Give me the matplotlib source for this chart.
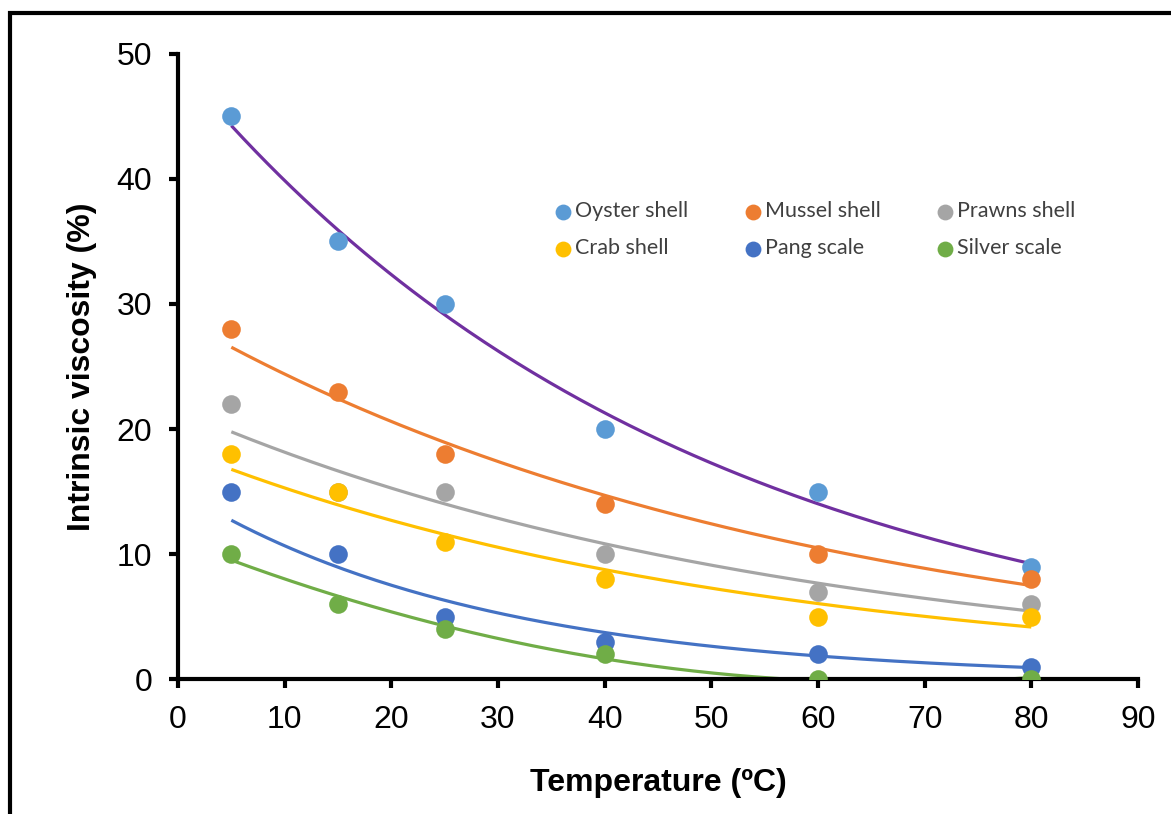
import numpy as np
import matplotlib.pyplot as plt
from matplotlib.patches import Rectangle

# temperature points (ºC)
temp = [5, 15, 25, 40, 60, 80]

# intrinsic viscosity (%) for each material
oyster = [45, 35, 30, 20, 15, 9]
mussel = [28, 23, 18, 14, 10, 8]
prawns = [22, 15, 15, 10, 7, 6]
crab = [18, 15, 11, 8, 5, 5]
pang = [15, 10, 5, 3, 2, 1]
silver = [10, 6, 4, 2, 0, 0]

names = ['Oyster shell', 'Mussel shell', 'Prawns shell', 'Crab shell', 'Pang scale', 'Silver scale']
series = [oyster, mussel, prawns, crab, pang, silver]
dot_colors = ['#5B9BD5', '#ED7D31', '#A5A5A5', '#FFC000', '#4472C4', '#70AD47']
fit_colors = ['#7030A0', '#ED7D31', '#A5A5A5', '#FFC000', '#4472C4', '#70AD47']
fit_kind = ['exp', 'exp', 'exp', 'exp', 'exp', 'poly2']

plt.rcParams['font.family'] = ['Liberation Sans', 'DejaVu Sans']

fig = plt.figure(figsize=(11.71, 8.14), dpi=100)
ax = fig.add_axes([0.152, 0.1658, 0.8198, 0.7679])

x = np.array(temp, dtype=float)
xs = np.linspace(5, 80, 200)

# trendlines first, dots on top
for vals, col, kind in zip(series, fit_colors, fit_kind):
    y = np.array(vals, dtype=float)
    if kind == 'exp':
        b, a = np.polyfit(x, np.log(y), 1)
        ys = np.exp(a + b * xs)
    else:
        ys = np.polyval(np.polyfit(x, y, 2), xs)
    ax.plot(xs, ys, color=col, lw=2.3, zorder=2, solid_capstyle='butt')

handles = []
for vals, col, name in zip(series, dot_colors, names):
    handles.append(ax.scatter(temp, vals, s=180, color=col, label=name, zorder=3, linewidths=0))

ax.set_xlim(0, 90)
ax.set_ylim(0, 50)
ax.set_xticks(range(0, 91, 10))
ax.set_yticks(range(0, 51, 10))
ax.tick_params(direction='out', length=6.5, width=3, labelsize=23, pad=12)
for side in ['top', 'right']:
    ax.spines[side].set_visible(False)
for side in ['left', 'bottom']:
    ax.spines[side].set_linewidth(3)

ax.set_xlabel('Temperature (ºC)', fontsize=23, fontweight='bold', labelpad=24)
ax.set_ylabel('Intrinsic viscosity (%)', fontsize=23, fontweight='bold', labelpad=14)

# legend reads row by row: three per row
order = [0, 3, 1, 4, 2, 5]
ax.legend([handles[i] for i in order], [names[i] for i in order],
          loc='upper left', bbox_to_anchor=(0.37, 0.795), ncol=3, frameon=False,
          prop={'family': ['Lato', 'DejaVu Sans'], 'size': 15.5},
          handletextpad=0.05, columnspacing=2.5, labelspacing=0.78,
          handlelength=1.0, markerscale=0.85, labelcolor='#404040')

# outer frame around the figure
fig.patches.append(Rectangle((10 / 1171, -0.2), 1.5, 1.2 - 13.5 / 814,
                             transform=fig.transFigure, fill=False,
                             edgecolor='black', lw=3, zorder=10))

fig.savefig('out.png', dpi=100)
